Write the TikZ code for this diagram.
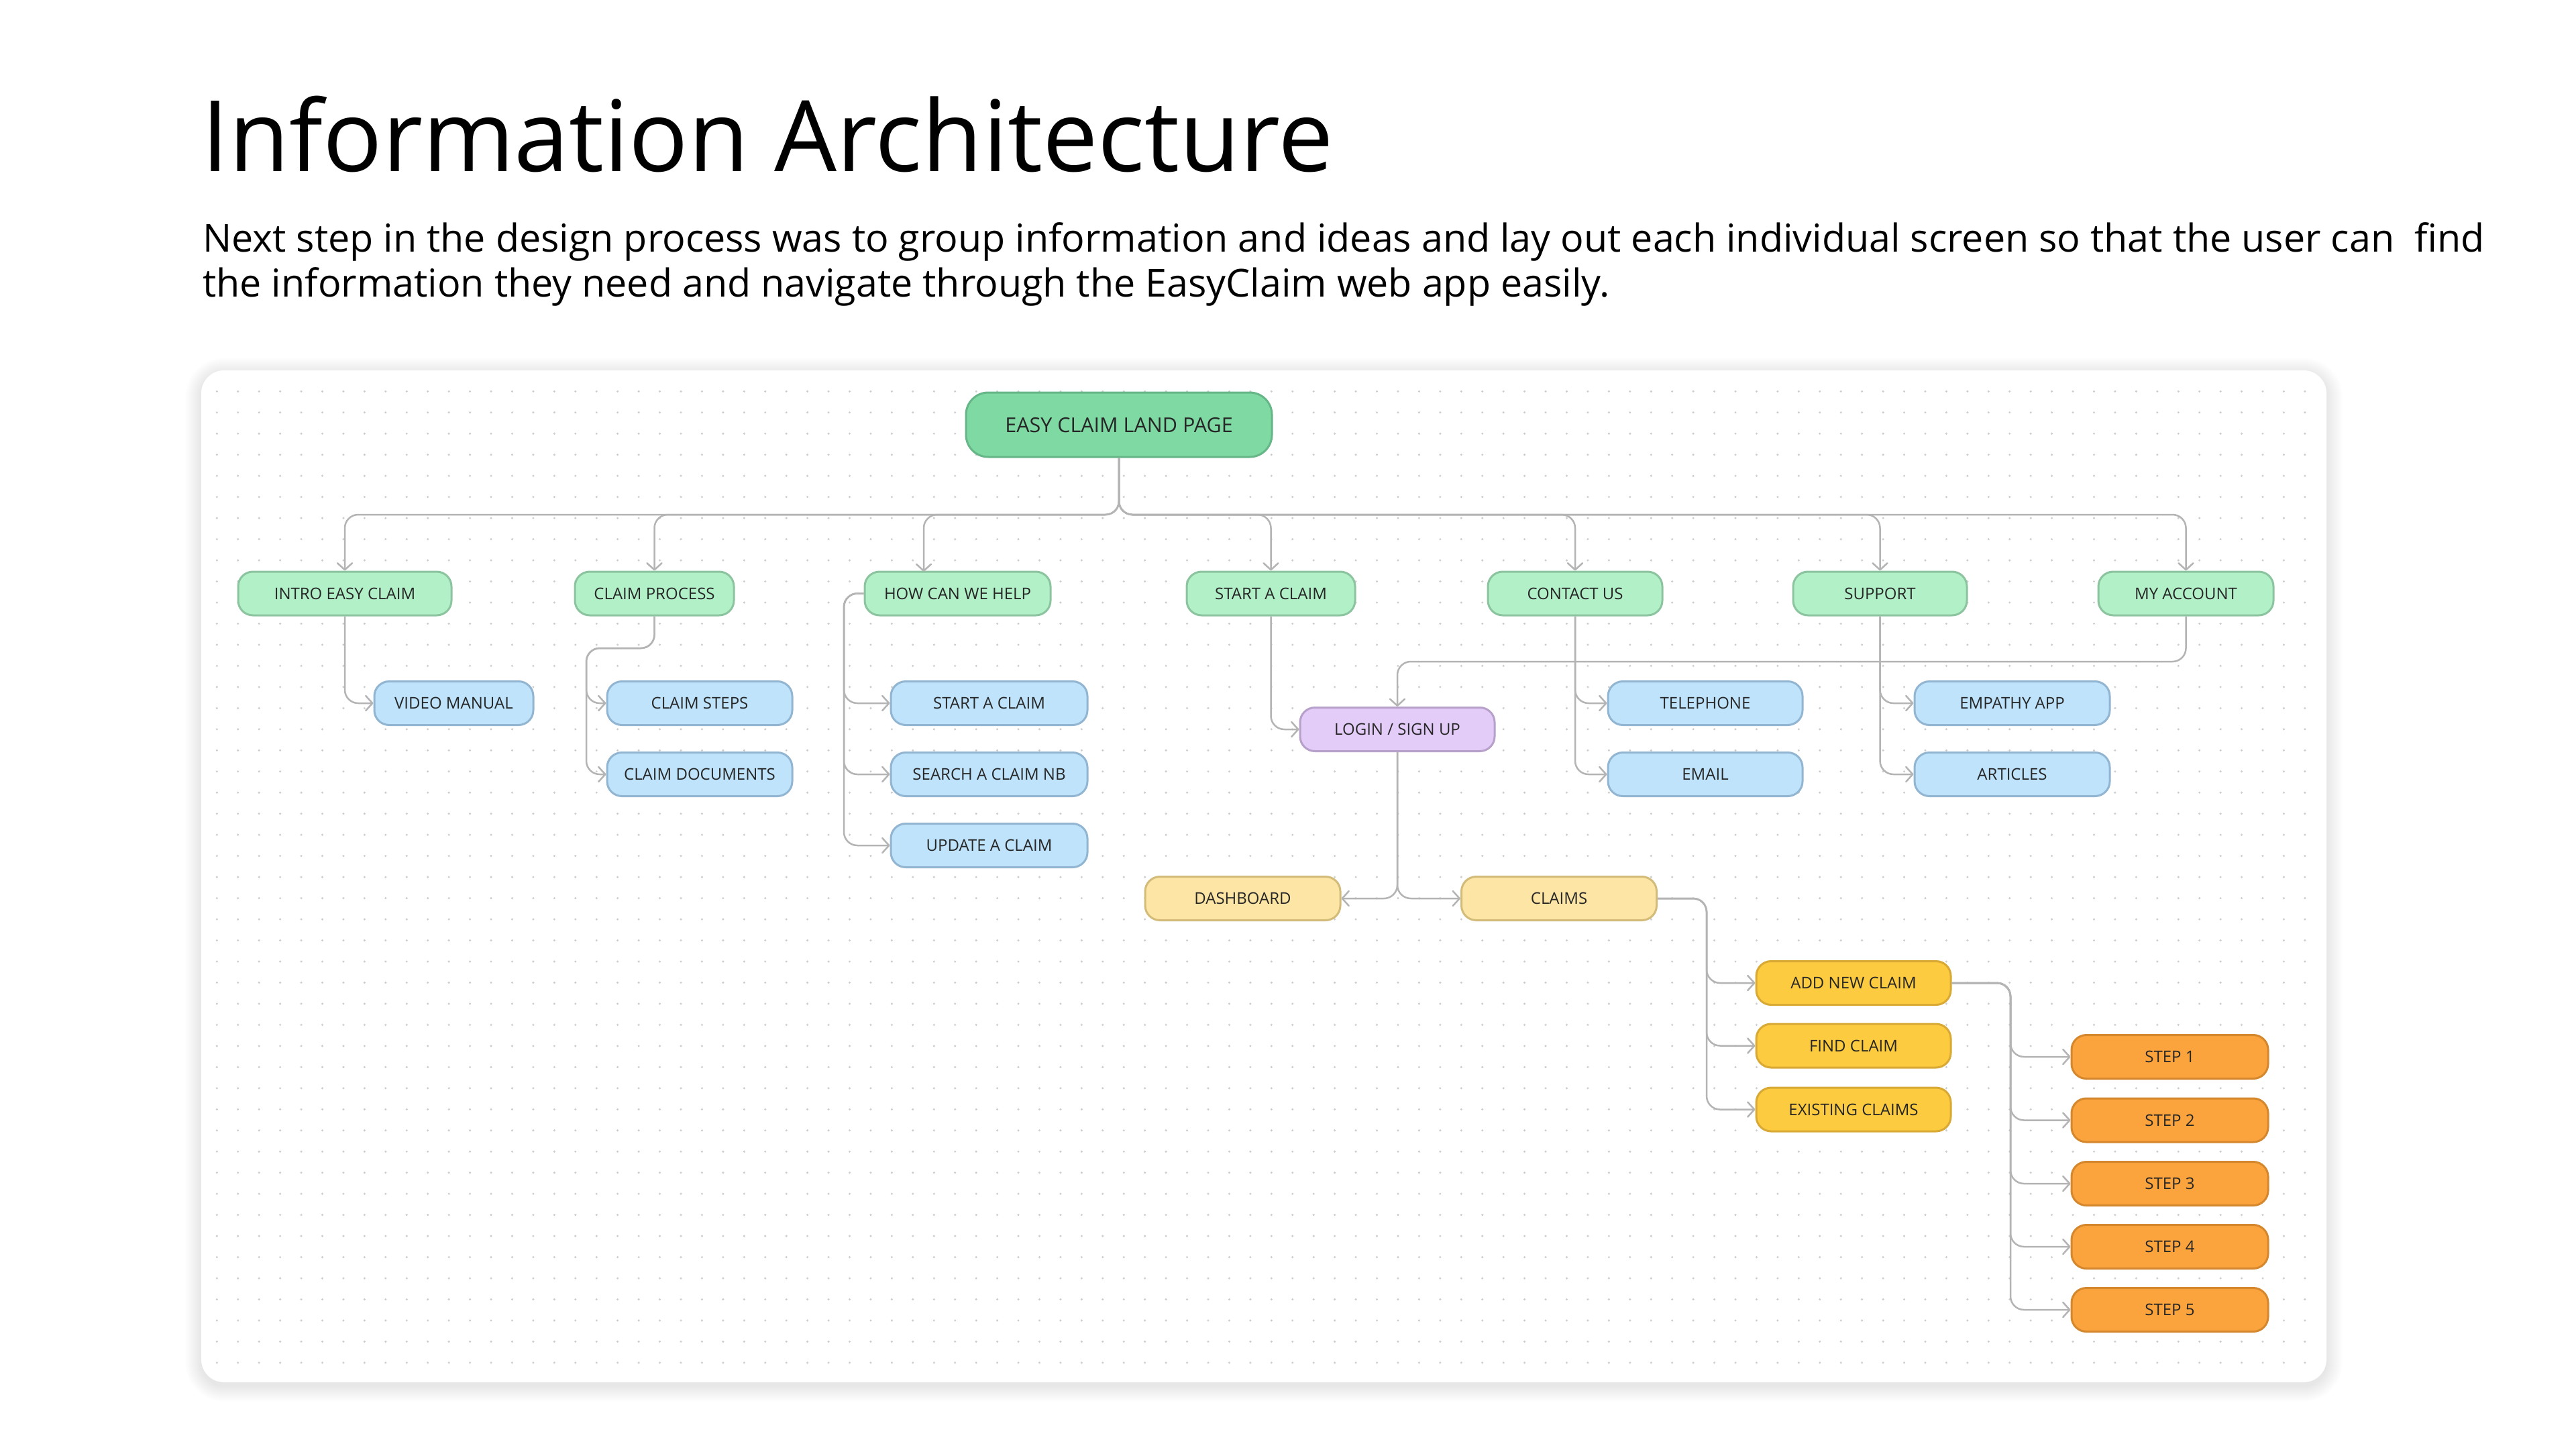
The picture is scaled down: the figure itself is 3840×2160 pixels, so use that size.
\documentclass[tikz,border=0pt]{standalone}
\usepackage{fontspec}
\setmainfont{Open Sans}
\usetikzlibrary{arrows.meta}
\definecolor{txt}{HTML}{262626}
\definecolor{lc}{HTML}{B4B4B4}
\definecolor{dotc}{HTML}{CDCDCD}
\definecolor{rootf}{HTML}{7FD9A3}
\definecolor{rootd}{HTML}{67B688}
\definecolor{gf}{HTML}{B2F0C8}
\definecolor{gd}{HTML}{8CC49F}
\definecolor{bf}{HTML}{BEE3FB}
\definecolor{bd}{HTML}{92B5D1}
\definecolor{pf}{HTML}{E3CDF8}
\definecolor{pd}{HTML}{B7A1CB}
\definecolor{lyf}{HTML}{FDE6A5}
\definecolor{lyd}{HTML}{D3BB7A}
\definecolor{yf}{HTML}{FCCB3F}
\definecolor{yd}{HTML}{D8A934}
\definecolor{of}{HTML}{FBA43D}
\definecolor{od}{HTML}{D5872D}
\begin{document}
\begin{tikzpicture}[x=1pt,y=-1pt,
  box/.style={rounded corners=22pt, line width=3pt, minimum height=65pt, inner sep=0pt,
    text height=17.1pt, text depth=0pt, font=\fontsize{24}{28}\selectfont, text=txt},
  rootbox/.style={rounded corners=33pt, line width=3pt, minimum height=96pt, inner sep=0pt,
    text height=22pt, text depth=0pt, font=\fontsize{30.5}{36}\selectfont, text=txt, fill=rootf, draw=rootd},
  lvlone/.style={box, fill=gf, draw=gd},
  bluebox/.style={box, fill=bf, draw=bd},
  purplebox/.style={box, fill=pf, draw=pd},
  lightyel/.style={box, fill=lyf, draw=lyd},
  yelbox/.style={box, fill=yf, draw=yd},
  orangebox/.style={box, fill=of, draw=od},
  conn/.style={draw=lc, line width=2.5pt, rounded corners=20pt,
    -{Straight Barb[length=10pt,width=22pt,round]}}
]
\useasboundingbox (0,0) rectangle (3840,2160);
\fill[white] (0,0) rectangle (3840,2160);

% panel with soft shadow
\foreach \k in {1,...,24}{
  \fill[black, opacity=0.0045, rounded corners=34+\k] (300-\k,552-\k+5) rectangle (3468+\k,2060+\k+5);
}
\fill[white, rounded corners=34pt] (300,552) rectangle (3468,2060);
\foreach \i in {0,...,99}{
  \fill[dotc] \foreach \j in {0,...,46}{(323.3+31.44*\i,583.3+31.47*\j) circle[radius=1.7pt]};
}

% title and text
\node[anchor=base west, inner sep=0pt, font=\fontsize{147}{150}\selectfont] (title) at (300,255) {Information Architecture};
\node[anchor=base west, inner sep=0pt, font=\fontsize{57.4}{67}\selectfont] (para1) at (302,375)
  {Next step in the design process was to group information and ideas and lay out each individual screen so that the user can\ \ find};
\node[anchor=base west, inner sep=0pt, font=\fontsize{57.4}{67}\selectfont] (para2) at (302,442)
  {the information they need and navigate through the EasyClaim web app easily.};

% nodes
\node[rootbox, minimum width=456pt] (root) at (1668,633) {EASY CLAIM LAND PAGE};

\node[lvlone, minimum width=318pt] (intro) at (514,884.5) {INTRO EASY CLAIM};
\node[lvlone, minimum width=237pt] (proc) at (975.5,884.5) {CLAIM PROCESS};
\node[lvlone, minimum width=277pt] (help) at (1427.5,884.5) {HOW CAN WE HELP};
\node[lvlone, minimum width=251pt] (start) at (1894.5,884.5) {START A CLAIM};
\node[lvlone, minimum width=260pt] (contact) at (2348,884.5) {CONTACT US};
\node[lvlone, minimum width=259pt] (support) at (2802.5,884.5) {SUPPORT};
\node[lvlone, minimum width=261pt] (acct) at (3258.5,884.5) {MY ACCOUNT};

\node[bluebox, minimum width=237pt] (video) at (676.5,1048) {VIDEO MANUAL};
\node[bluebox, minimum width=276pt] (csteps) at (1043,1048) {CLAIM STEPS};
\node[bluebox, minimum width=276pt] (cdocs) at (1043,1154) {CLAIM DOCUMENTS};
\node[bluebox, minimum width=293pt] (bstart) at (1474.5,1048) {START A CLAIM};
\node[bluebox, minimum width=293pt] (bsearch) at (1474.5,1154) {SEARCH A CLAIM NB};
\node[bluebox, minimum width=293pt] (bupdate) at (1474.5,1260) {UPDATE A CLAIM};
\node[purplebox, minimum width=290pt] (login) at (2083,1087) {LOGIN / SIGN UP};
\node[bluebox, minimum width=290pt] (tel) at (2542,1048) {TELEPHONE};
\node[bluebox, minimum width=290pt] (email) at (2542,1154) {EMAIL};
\node[bluebox, minimum width=291pt] (empathy) at (2999.5,1048) {EMPATHY APP};
\node[bluebox, minimum width=291pt] (articles) at (2999.5,1154) {ARTICLES};

\node[lightyel, minimum width=291pt] (dash) at (1852.5,1339) {DASHBOARD};
\node[lightyel, minimum width=291pt] (claims) at (2324,1339) {CLAIMS};

\node[yelbox, minimum width=290pt] (add) at (2763,1465) {ADD NEW CLAIM};
\node[yelbox, minimum width=290pt] (find) at (2763,1558.5) {FIND CLAIM};
\node[yelbox, minimum width=290pt] (exist) at (2763,1653.5) {EXISTING CLAIMS};

\node[orangebox, minimum width=293pt] (s1) at (3234.5,1575) {STEP 1};
\node[orangebox, minimum width=293pt] (s2) at (3234.5,1669.5) {STEP 2};
\node[orangebox, minimum width=293pt] (s3) at (3234.5,1764) {STEP 3};
\node[orangebox, minimum width=293pt] (s4) at (3234.5,1858) {STEP 4};
\node[orangebox, minimum width=293pt] (s5) at (3234.5,1952) {STEP 5};

% bend coordinates
\coordinate (bus) at (1668,767);
\coordinate (helpin) at (1377,852);
\coordinate (cpb) at (874,966);
\coordinate (hw) at (1258,884.5);
\coordinate (accb) at (3258.5,986);
\coordinate (cb) at (2544,1339);
\coordinate (ab) at (2997,1465);

% connectors: level 1
\draw[conn] (root.south) -- (bus) -| (intro.north);
\draw[conn] (root.south) -- (bus) -| (proc.north);
\draw[conn] (root.south) -- (bus) -| (helpin);
\draw[conn] (root.south) -- (bus) -| (start.north);
\draw[conn] (root.south) -- (bus) -| (contact.north);
\draw[conn] (root.south) -- (bus) -| (support.north);
\draw[conn] (root.south) -- (bus) -| (acct.north);

% level 2
\draw[conn] (intro.south) |- (video.west);
\draw[conn] (proc.south) |- (cpb) |- (csteps.west);
\draw[conn] (proc.south) |- (cpb) |- (cdocs.west);
\draw[conn] (help.west) -- (hw) |- (bstart.west);
\draw[conn] (help.west) -- (hw) |- (bsearch.west);
\draw[conn] (help.west) -- (hw) |- (bupdate.west);
\draw[conn] (start.south) |- (login.west);
\draw[conn] (acct.south) -- (accb) -| (login.north);
\draw[conn] (contact.south) |- (tel.west);
\draw[conn] (contact.south) |- (email.west);
\draw[conn] (support.south) |- (empathy.west);
\draw[conn] (support.south) |- (articles.west);

% login split
\draw[conn] (login.south) |- (dash.east);
\draw[conn] (login.south) |- (claims.west);

% claims
\draw[conn] (claims.east) -- (cb) |- (add.west);
\draw[conn] (claims.east) -- (cb) |- (find.west);
\draw[conn] (claims.east) -- (cb) |- (exist.west);

% steps
\draw[conn] (add.east) -- (ab) |- (s1.west);
\draw[conn] (add.east) -- (ab) |- (s2.west);
\draw[conn] (add.east) -- (ab) |- (s3.west);
\draw[conn] (add.east) -- (ab) |- (s4.west);
\draw[conn] (add.east) -- (ab) |- (s5.west);
\end{tikzpicture}
\end{document}
